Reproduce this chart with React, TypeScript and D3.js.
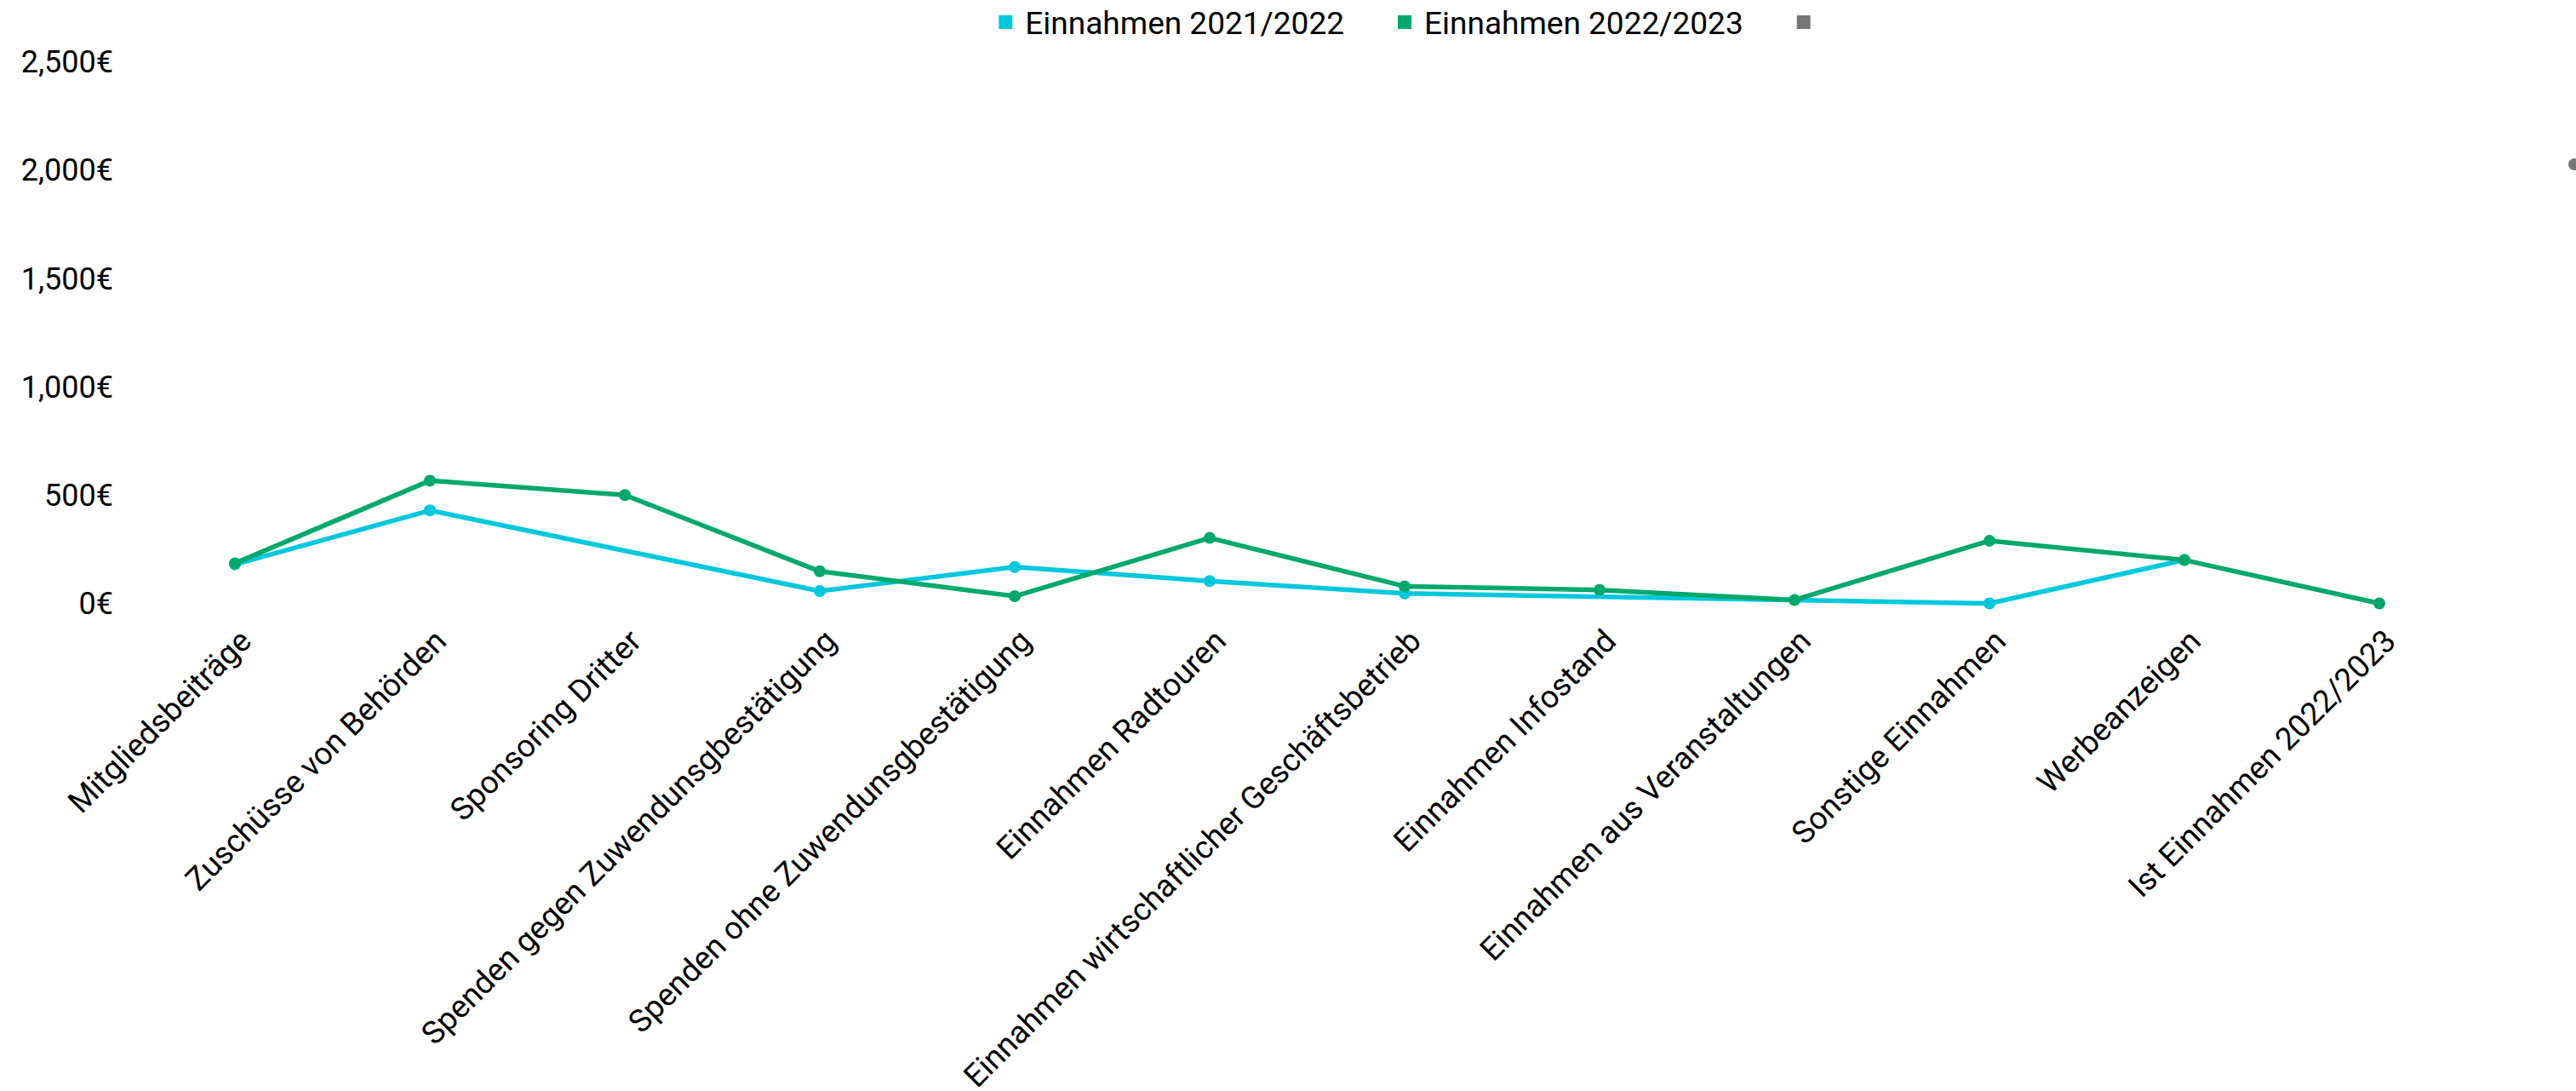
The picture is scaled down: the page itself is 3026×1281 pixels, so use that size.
import React, { useEffect, useRef } from 'react';
import * as d3 from 'd3';

const categories: string[] = [
  'Mitgliedsbeiträge',
  'Zuschüsse von Behörden',
  'Sponsoring Dritter',
  'Spenden gegen Zuwendunsgbestätigung',
  'Spenden ohne Zuwendunsgbestätigung',
  'Einnahmen Radtouren',
  'Einnahmen wirtschaftlicher Geschäftsbetrieb',
  'Einnahmen Infostand',
  'Einnahmen aus Veranstaltungen',
  'Sonstige Einnahmen',
  'Werbeanzeigen',
  'Ist Einnahmen 2022/2023',
  '',
];

const einnahmen2021: (number | null)[] = [180, 429, null, 57, 168, 103, 46, null, null, 0, 200, null, null];
const einnahmen2022: (number | null)[] = [185, 566, 500, 148, 33, 302, 79, 62, 16, 289, 200, 0, null];
const thirdSeries: (number | null)[] = [null, null, null, null, null, null, null, null, null, null, null, null, 2025];

const yTicks: number[] = [0, 500, 1000, 1500, 2000, 2500];

const seriesNames = ['Einnahmen 2021/2022', 'Einnahmen 2022/2023', ''];
const seriesColors = ['#00c8dc', '#00a86b', '#777777'];

export default function App() {
  const ref = useRef<SVGSVGElement | null>(null);

  useEffect(() => {
    const svg = d3.select(ref.current);
    svg.selectAll('*').remove();
    const font = 'Roboto, sans-serif';

    const left = 276;
    const right = 3024;
    const top = 72;
    const bottom = 708.5;

    const x = d3.scalePoint<string>().domain(categories.map((_, i) => String(i))).range([left, right]);
    const y = d3.scaleLinear().domain([0, 2500]).range([bottom, top]);

    // y axis labels
    const fmt = d3.format(',');
    svg.append('g')
      .selectAll('text')
      .data(yTicks)
      .join('text')
      .attr('x', 133)
      .attr('y', d => y(d))
      .attr('dy', '0.36em')
      .attr('text-anchor', 'end')
      .attr('font-family', font)
      .attr('font-size', 36)
      .attr('fill', '#000')
      .text(d => fmt(d) + '€');

    // x labels
    svg.append('g')
      .selectAll('text')
      .data(categories)
      .join('text')
      .attr('transform', (_, i) => `translate(${(x(String(i)) as number) + 12},${bottom + 37}) rotate(-45)`)
      .attr('dy', '0.36em')
      .attr('text-anchor', 'end')
      .attr('font-family', font)
      .attr('font-size', 37)
      .attr('fill', '#000')
      .text(d => d);

    const allSeries = [einnahmen2021, einnahmen2022, thirdSeries];
    allSeries.forEach((vals, si) => {
      const pts = vals
        .map((v, i) => ({ i, v }))
        .filter(p => p.v !== null) as { i: number; v: number }[];
      const line = d3.line<{ i: number; v: number }>()
        .x(p => x(String(p.i)) as number)
        .y(p => y(p.v));
      const g = svg.append('g');
      g.append('path')
        .attr('d', line(pts) || '')
        .attr('fill', 'none')
        .attr('stroke', seriesColors[si])
        .attr('stroke-width', 5.5)
        .attr('stroke-linejoin', 'round');
      g.selectAll('circle')
        .data(pts)
        .join('circle')
        .attr('cx', p => x(String(p.i)) as number)
        .attr('cy', p => y(p.v))
        .attr('r', 7)
        .attr('fill', seriesColors[si]);
    });

    // legend
    const legend = svg.append('g');
    const box = 16;
    const gapBoxText = 15;
    const gapItems = 63;
    const items = seriesNames.map((name, i) => {
      const g = legend.append('g');
      g.append('rect').attr('width', box).attr('height', box).attr('y', 18).attr('fill', seriesColors[i]);
      const t = g.append('text')
        .attr('x', box + gapBoxText)
        .attr('y', 40)
        .attr('font-family', font)
        .attr('font-size', 37)
        .attr('fill', '#000')
        .text(name);
      const w = name ? (t.node() as SVGTextElement).getComputedTextLength() : 0;
      return { g, width: name ? box + gapBoxText + w : box };
    });
    const total = items.reduce((s, it) => s + it.width, 0) + gapItems * (items.length - 1);
    let cx = (left + right) / 2 - total / 2;
    items.forEach(it => {
      it.g.attr('transform', `translate(${cx},0)`);
      cx += it.width + gapItems;
    });
  }, []);

  return (
    <svg
      ref={ref}
      width={3026}
      height={1281}
      style={{ position: 'absolute', left: 0, top: 0, display: 'block', background: '#fff' }}
    />
  );
}
